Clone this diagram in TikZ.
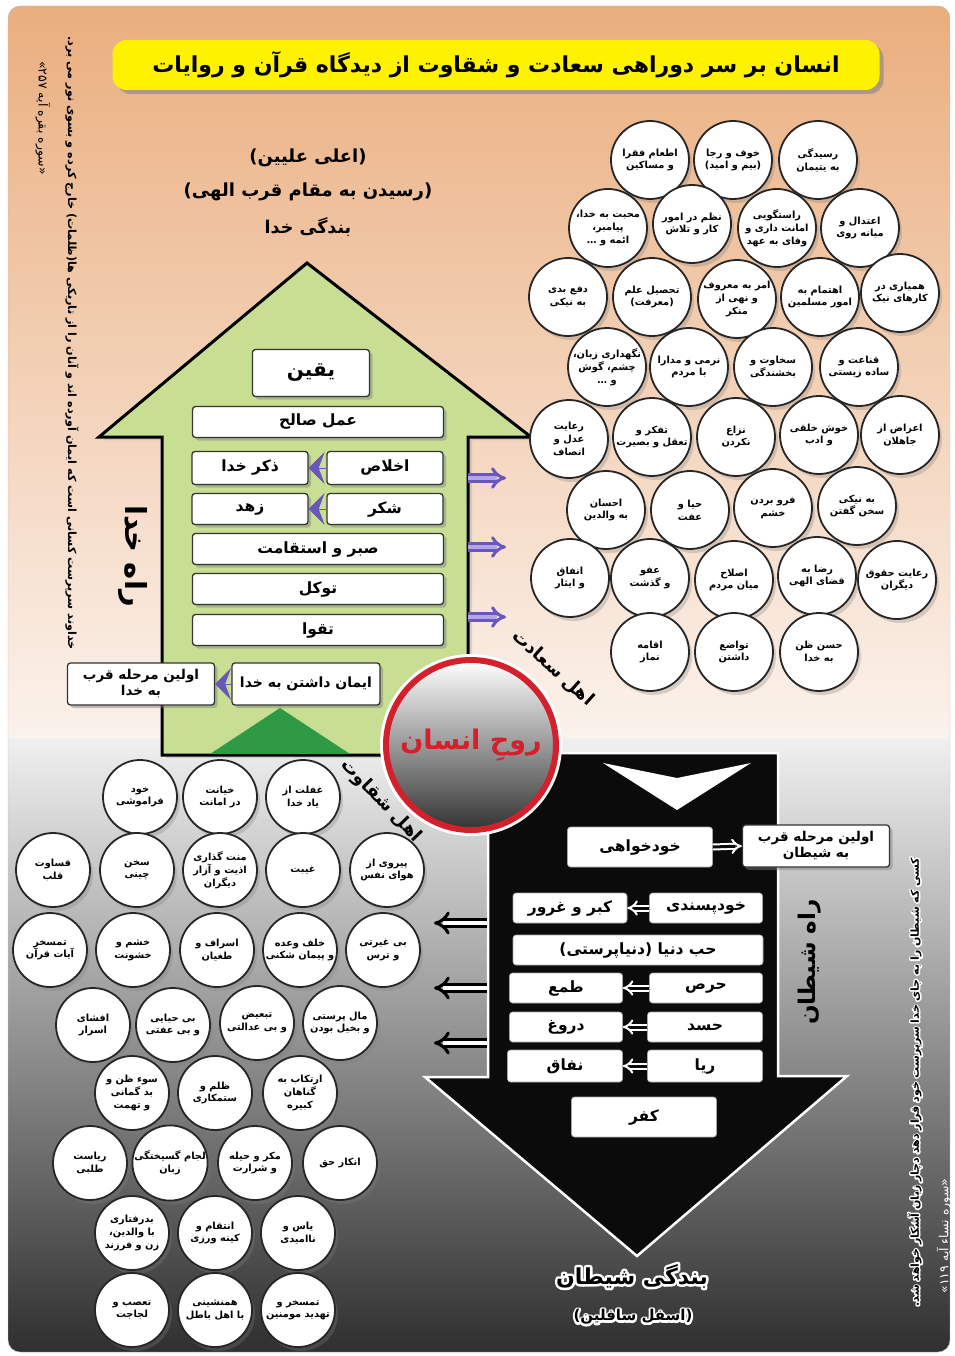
\documentclass[tikz,border=0pt]{standalone}
\usepackage{fontspec}
\usepackage{xcolor}
\usepackage{tikz}
\usetikzlibrary{arrows.meta,shadows}
\TeXXeTstate=1
\newfontfamily\fafont[Script=Arabic]{DejaVu Sans}
\definecolor{peach}{HTML}{EAAE7E}
\definecolor{peachlt}{HTML}{FBF2EC}
\definecolor{greyhi}{HTML}{F0F0F0}
\definecolor{greylo}{HTML}{2F2F2F}
\definecolor{banner}{HTML}{FFF200}
\definecolor{leaf}{HTML}{C8DE92}
\definecolor{leafdk}{HTML}{2F9A45}
\definecolor{night}{HTML}{0B0B0B}
\definecolor{vio}{HTML}{6A58B8}
\definecolor{violt}{HTML}{B4A6E6}
\definecolor{soulred}{HTML}{D3202B}
\tikzset{
  banner/.style={fill=banner, rounded corners=14pt, minimum width=767pt, minimum height=50pt, inner sep=0pt,
    font=\fafont\bfseries\fontsize{22}{26}\selectfont, drop shadow={opacity=.55, shadow xshift=4pt, shadow yshift=-4pt}},
  leafarrow/.style={fill=leaf, draw=black, line width=3pt, line join=miter, drop shadow={opacity=.25, shadow xshift=4pt, shadow yshift=-3pt}},
  nightarrow/.style={fill=night, draw=white, line width=2.5pt, line join=miter},
  good/.style={circle, draw=black!85, line width=1.8pt, fill=white, minimum size=78pt, inner sep=0pt, align=center,
    font=\fafont\bfseries\fontsize{9.8}{12.8}\selectfont, drop shadow={opacity=.3, shadow xshift=3pt, shadow yshift=-4pt}},
  bad/.style={good, minimum size=74pt},
  plate/.style={fill=white, rounded corners=3pt, inner sep=0pt, minimum width=#1, minimum height=31pt, align=center,
    font=\fafont\bfseries\fontsize{15.5}{18}\selectfont},
  tag/.style={plate=#1, draw=black!80, line width=1.3pt, drop shadow={opacity=.45, shadow xshift=3pt, shadow yshift=-3pt}},
  sintag/.style={plate=#1, draw=black!35, line width=.6pt},
  lift/.style={draw=vio, double=violt, line width=3pt, double distance=4pt, -{Implies}},
  fall/.style={draw=black, double=white, line width=3pt, double distance=4.5pt, -{Implies}},
  innerflow/.style={draw=white, double=night, line width=2pt, double distance=3pt, -{Implies}},
  chev/.style={draw=vio, fill=vio, line width=1pt, -{Stealth[length=16pt,width=32pt,inset=6pt]}},
  heading/.style={font=\fafont\bfseries\fontsize{18}{21}\selectfont},
  verse/.style={font=\fafont\bfseries\fontsize{11.2}{13}\selectfont, inner sep=0pt},
  versecite/.style={font=\fafont\fontsize{12.5}{14}\selectfont, inner sep=0pt},
  soul/.style={circle, minimum size=170pt, draw=soulred, line width=6pt, top color=white, middle color=black!22,
    bottom color=black!80, preaction={draw=white, line width=12pt}, font=\fafont\bfseries\fontsize{27}{32}\selectfont},
}
\newcommand{\fa}[1]{\beginR#1\endR}
% white edge behind dark text: stroke width, text colour, text
\newcommand{\halo}[3]{%
  \rlap{\special{pdf:literal direct q 1 1 1 RG 1 1 1 rg #1 w 1 j 2 Tr}#3\special{pdf:literal direct Q}}%
  {\color{#2}#3}}
\newcommand{\bubbles}[2]{%
  \foreach \nm/\x/\y/\txt in {#2} {\node[#1] (\nm) at (\x,\y) {\txt};}}

\begin{document}
\begin{tikzpicture}[x=1pt,y=-1pt]
  \useasboundingbox (0,0) rectangle (954,1356);
  % page
  \begin{scope}
    \clip[rounded corners=12pt] (8,6) rectangle (950,1352);
    \shade[top color=peach, bottom color=peachlt] (8,6) rectangle (950,738);
    \shade[top color=greyhi, bottom color=greylo] (8,738) rectangle (950,1352);
  \end{scope}
  \draw[black!25, rounded corners=12pt] (8,6) rectangle (950,1352);
  \node[banner] (title) at (496,65) {\fa{انسان بر سر دوراهی سعادت و شقاوت از دیدگاه قرآن و روایات}};

  % the two roads
  \draw[leafarrow] (307,263) -- (531,437) -- (468,437) -- (468,755) -- (162,755) -- (162,437) -- (99,437) -- cycle;
  \fill[leafdk] (210,754) -- (280,708) -- (350,754) -- cycle;
  \draw[nightarrow] (488,753) -- (778,753) -- (778,1076) -- (847,1076) -- (637,1256) -- (425,1077) -- (488,1077) -- cycle;
  \fill[white] (603,763) -- (677,778) -- (751,763) -- (677,810) -- cycle;

  \node[heading] (aala) at (308,158) {\fa{(اعلی علیین)}};
  \node[heading] (qurb) at (308,192) {\fa{(رسیدن به مقام قرب الهی)}};
  \node[heading, font=\fafont\bfseries\fontsize{17.5}{21}\selectfont] (bandegi) at (308,227) {\fa{بندگی خدا}};
  \node[heading, font=\fafont\bfseries\fontsize{29}{34}\selectfont, rotate=-90] (rahkhoda) at (133,556) {\fa{راه خدا}};

  % virtues
  \bubbles{good}{
    v1/650/160/{\fa{اطعام فقرا}\\\fa{و مساکین}},
    v2/733/160/{\fa{خوف و رجا}\\\fa{(بیم و امید)}},
    v3/818/160/{\fa{رسیدگی}\\\fa{به یتیمان}},
    v4/608/228/{\fa{محبت به خدا،}\\\fa{پیامبر،}\\\fa{ائمه و …}},
    v5/692/224/{\fa{نظم در امور}\\\fa{کار و تلاش}},
    v6/777/228/{\fa{راستگویی}\\\fa{امانت داری و}\\\fa{وفای به عهد}},
    v7/860/228/{\fa{اعتدال و}\\\fa{میانه روی}},
    v8/568/297/{\fa{دفع بدی}\\\fa{به نیکی}},
    v9/652/297/{\fa{تحصیل علم}\\\fa{(معرفت)}},
    v10/737/299/{\fa{امر به معروف}\\\fa{و نهی از}\\\fa{منکر}},
    v11/820/297/{\fa{اهتمام به}\\\fa{امور مسلمین}},
    v12/900/293/{\fa{همیاری در}\\\fa{کارهای نیک}},
    v13/607/367/{\fa{نگهداری زبان،}\\\fa{چشم، گوش}\\\fa{و …}},
    v14/689/367/{\fa{نرمی و مدارا}\\\fa{با مردم}},
    v15/773/367/{\fa{سخاوت و}\\\fa{بخشندگی}},
    v16/859/367/{\fa{قناعت و}\\\fa{ساده زیستی}},
    v17/569/439/{\fa{رعایت}\\\fa{عدل و}\\\fa{انصاف}},
    v18/652/437/{\fa{تفکر و}\\\fa{تعقل و بصیرت}},
    v19/736/437/{\fa{نزاع}\\\fa{نکردن}},
    v20/819/435/{\fa{خوش خلقی}\\\fa{و ادب}},
    v21/900/435/{\fa{اعراض از}\\\fa{جاهلان}},
    v22/606/510/{\fa{احسان}\\\fa{به والدین}},
    v23/690/510/{\fa{حیا و}\\\fa{عفت}},
    v24/773/508/{\fa{فرو بردن}\\\fa{خشم}},
    v25/857/506/{\fa{به نیکی}\\\fa{سخن گفتن}},
    v26/570/578/{\fa{انفاق}\\\fa{و ایثار}},
    v27/650/578/{\fa{عفو}\\\fa{و گذشت}},
    v28/734/580/{\fa{اصلاح}\\\fa{میان مردم}},
    v29/817/576/{\fa{رضا به}\\\fa{قضای الهی}},
    v30/897/580/{\fa{رعایت حقوق}\\\fa{دیگران}},
    v31/650/652/{\fa{اقامه}\\\fa{نماز}},
    v32/734/652/{\fa{تواضع}\\\fa{داشتن}},
    v33/819/652/{\fa{حسن ظن}\\\fa{به خدا}}}

  % vices
  \bubbles{bad}{
    s1/140/797/{\fa{خود}\\\fa{فراموشی}},
    s2/220/797/{\fa{خیانت}\\\fa{در امانت}},
    s3/303/797/{\fa{غفلت از}\\\fa{یاد خدا}},
    s4/53/870/{\fa{قساوت}\\\fa{قلب}},
    s5/137/870/{\fa{سخن}\\\fa{چینی}},
    s6/220/870/{\fa{منت گذاری}\\\fa{اذیت و آزار}\\\fa{دیگران}},
    s7/303/870/{\fa{غیبت}},
    s8/387/870/{\fa{پیروی از}\\\fa{هوای نفس}},
    s9/50/950/{\fa{تمسخر}\\\fa{آیات قرآن}},
    s10/133/950/{\fa{خشم و}\\\fa{خشونت}},
    s11/217/950/{\fa{اسراف و}\\\fa{طغیان}},
    s12/300/950/{\fa{خلف وعده}\\\fa{و پیمان شکنی}},
    s13/383/950/{\fa{بی غیرتی}\\\fa{و ترس}},
    s14/93/1025/{\fa{افشای}\\\fa{اسرار}},
    s15/173/1025/{\fa{بی حیایی}\\\fa{و بی عفتی}},
    s16/257/1023/{\fa{تبعیض}\\\fa{و بی عدالتی}},
    s17/340/1023/{\fa{مال پرستی}\\\fa{و بخیل بودن}},
    s18/132/1093/{\fa{سوء ظن و}\\\fa{بد گمانی}\\\fa{و تهمت}},
    s19/215/1093/{\fa{ظلم و}\\\fa{ستمکاری}},
    s20/300/1093/{\fa{ارتکاب به}\\\fa{گناهان}\\\fa{کبیره}},
    s21/90/1163/{\fa{ریاست}\\\fa{طلبی}},
    s22/170/1163/{\fa{لجام گسیختگی}\\\fa{زبان}},
    s23/255/1163/{\fa{مکر و حیله}\\\fa{و شرارت}},
    s24/340/1163/{\fa{انکار حق}},
    s25/132/1233/{\fa{بدرفتاری}\\\fa{با والدین،}\\\fa{زن و فرزند}},
    s26/215/1233/{\fa{انتقام و}\\\fa{کینه ورزی}},
    s27/298/1233/{\fa{یاس و}\\\fa{ناامیدی}},
    s28/132/1310/{\fa{تعصب و}\\\fa{لجاجت}},
    s29/215/1310/{\fa{همنشینی}\\\fa{با اهل باطل}},
    s30/298/1310/{\fa{تمسخر و}\\\fa{تهدید مومنین}}}

  % steps up
  \node[tag=117pt, minimum height=47pt, font=\fafont\bfseries\fontsize{20}{24}\selectfont] (yaqin) at (311,373) {\fa{یقین}};
  \node[tag=251pt] (amal) at (318,422) {\fa{عمل صالح}};
  \node[tag=116pt, minimum height=33pt] (zikr) at (250,468) {\fa{ذکر خدا}};
  \node[tag=116pt, minimum height=33pt] (ikhlas) at (385,468) {\fa{اخلاص}};
  \node[tag=116pt] (zohd) at (250,509) {\fa{زهد}};
  \node[tag=116pt] (shokr) at (385,509) {\fa{شکر}};
  \node[tag=251pt] (sabr) at (318,549) {\fa{صبر و استقامت}};
  \node[tag=251pt] (tavakkol) at (318,589) {\fa{توکل}};
  \node[tag=251pt] (taqva) at (318,630) {\fa{تقوا}};
  \node[tag=148pt, minimum height=42pt, font=\fafont\bfseries\fontsize{14}{17}\selectfont] (iman) at (306,684) {\fa{ایمان داشتن به خدا}};
  \node[tag=147pt, minimum height=42pt, font=\fafont\bfseries\fontsize{13.5}{16}\selectfont] (avval) at (141,684) {\fa{اولین مرحله قرب}\\\fa{به خدا}};
  \draw[chev] (ikhlas.west) -- (zikr.east);
  \draw[chev] (shokr.west) -- (zohd.east);
  \draw[chev] (iman.west) -- (avval.east);
  \foreach \i/\y in {1/478, 2/547, 3/617} {
    \coordinate (up\i) at (468,\y);
    \coordinate (good\i) at (506,\y);
    \draw[lift] (up\i) -- (good\i);
  }

  % steps down
  \node[sintag=145pt, minimum height=40pt] (khodkhahi) at (640,847) {\fa{خودخواهی}};
  \node[tag=147pt, minimum height=42pt, font=\fafont\bfseries\fontsize{13.5}{16}\selectfont] (avvalsh) at (816,846) {\fa{اولین مرحله قرب}\\\fa{به شیطان}};
  \node[sintag=113pt, minimum height=30pt] (khodpasandi) at (706,908) {\fa{خودپسندی}};
  \node[sintag=114pt, minimum height=30pt] (kebr) at (570,908) {\fa{کبر و غرور}};
  \node[sintag=250pt, minimum height=30pt] (hobb) at (638,950) {\fa{حب دنیا (دنیاپرستی)}};
  \node[sintag=113pt, minimum height=30pt] (hers) at (706,988) {\fa{حرص}};
  \node[sintag=113pt, minimum height=30pt] (tama) at (566,988) {\fa{طمع}};
  \node[sintag=115pt, minimum height=30pt] (hasad) at (705,1027) {\fa{حسد}};
  \node[sintag=113pt, minimum height=30pt] (dorugh) at (566,1027) {\fa{دروغ}};
  \node[sintag=115pt, minimum height=32pt] (riya) at (705,1066) {\fa{ریا}};
  \node[sintag=115pt, minimum height=32pt] (nefaq) at (565,1066) {\fa{نفاق}};
  \node[sintag=145pt, minimum height=40pt] (kofr) at (644,1117) {\fa{کفر}};
  \draw[innerflow] (khodkhahi.east) -- (avvalsh.west);
  \draw[innerflow] (khodpasandi.west) -- (kebr.east);
  \draw[innerflow] (hers.west) -- (tama.east);
  \draw[innerflow] (hasad.west) -- (dorugh.east);
  \draw[innerflow] (riya.west) -- (nefaq.east);
  \foreach \i/\y in {1/923, 2/988, 3/1043} {
    \coordinate (down\i) at (487,\y);
    \coordinate (bad\i) at (434,\y);
    \draw[fall] (down\i) -- (bad\i);
  }

  % the soul at the crossroads
  \node[soul] (soul) at (471,745) {\textcolor{soulred}{\fa{روحِ انسان}}};
  \node[heading, rotate=-42] (saadat) at (553,668) {\fa{اهل سعادت}};
  \node[heading, rotate=-46] (shaqavat) at (381,801) {\fa{اهل شقاوت}};
  \node[heading, font=\fafont\bfseries\fontsize{23}{27}\selectfont, rotate=90] (rahsheytan) at (810,962) {\fa{راه شیطان}};
  \node[heading, font=\fafont\bfseries\fontsize{22}{26}\selectfont] (hell) at (632,1276) {\halo{5}{black}{\fa{بندگی شیطان}}};
  \node[heading, font=\fafont\bfseries\fontsize{15}{18}\selectfont] (asfal) at (633,1317) {\halo{4}{black}{\fa{(اسفل سافلین)}}};

  % verses
  \node[verse, rotate=-90] (bagara) at (72,343) {\fa{خداوند سرپرست کسانی است که ایمان آورده اند و آنان را از تاریکی ها(ظلمات) خارج کرده و بسوی نور می برد.}};
  \node[versecite, rotate=-90] (bagararef) at (43,118) {\fa{«سوره بقره آیه ۲۵۷»}};
  \node[verse, font=\fafont\bfseries\fontsize{11}{13}\selectfont, rotate=90] (nisa) at (915,1082) {\halo{3}{black}{\fa{کسی که شیطان را به جای خدا سرپرست خود قرار دهد دچار زیان آشکار خواهد شد.}}};
  \node[versecite, rotate=90, text=white] (nisaref) at (944,1236) {\fa{«سوره نساء آیه ۱۱۹»}};
  \node[font=\fafont\fontsize{10}{12}\selectfont, text=black!80] (credit) at (64,1345) {\fa{محمدحسین ضیایی}};
\end{tikzpicture}
\end{document}
